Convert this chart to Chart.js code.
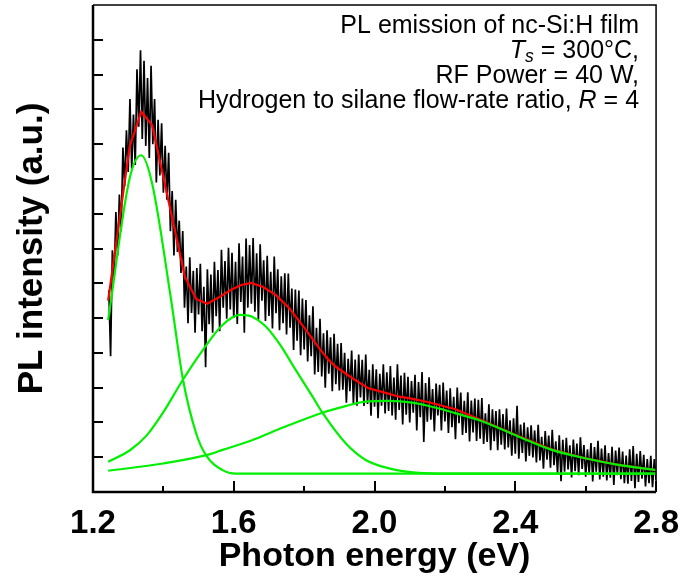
<!DOCTYPE html>
<html>
<head>
<meta charset="utf-8">
<script src="https://cdn.jsdelivr.net/npm/chart.js@4.4.1/dist/chart.umd.min.js"></script>
<style>
  html, body { margin: 0; padding: 0; background: #fff; }
</style>
</head>
<body>
<canvas id="plChart" width="683" height="580"></canvas>
<script>
// measured PL spectrum, sampled every 5 meV from 1.245 eV
const energyStart = 1.245;
const energyStep = 0.005;
const plSignal = [
  5.8, 3.9, 6.95, 6.1, 8.05, 6.8, 8.55, 7.5, 9.9, 8.8,
  10.4, 9.2, 11.3, 9.3, 10.85, 9.4, 12.15, 10.5, 12.7, 10.15,
  12.4, 9.95, 11.9, 9.6, 12.25, 10.0, 11.3, 8.9, 10.7, 9.1,
  10.6, 8.6, 9.95, 8.4, 9.75, 7.5, 8.65, 6.8, 8.4, 6.9,
  7.8, 6.3, 7.5, 5.3, 6.48, 4.85, 6.75, 5.15, 6.36, 4.58,
  6.44, 5.1, 6.56, 4.62, 5.9, 3.59, 6.4, 4.82, 6.25, 4.58,
  6.62, 5.05, 6.38, 4.62, 6.96, 5.3, 6.64, 4.98, 7.02, 5.25,
  6.88, 5.0, 6.62, 4.83, 7.15, 5.46, 6.77, 4.58, 7.29, 5.3,
  7.1, 5.41, 7.3, 5.18, 6.86, 4.95, 7.12, 5.5, 6.66, 4.92,
  6.79, 5.06, 6.33, 4.7, 6.77, 5.14, 6.4, 4.65, 6.2, 4.85,
  6.29, 4.53, 6.28, 4.72, 5.85, 4.08, 5.82, 4.35, 5.79, 3.93,
  5.56, 4.1, 5.52, 3.75, 5.08, 3.9, 5.34, 3.38, 4.72, 3.45,
  4.98, 3.32, 4.56, 3.0, 4.65, 3.4, 4.45, 2.9, 4.55, 3.1,
  4.26, 2.92, 4.28, 2.94, 4.0, 2.57, 3.83, 2.9, 4.07, 2.54,
  3.81, 2.48, 3.95, 2.72, 3.8, 2.47, 3.95, 2.53, 3.51, 2.19,
  3.67, 2.45, 3.53, 2.12, 3.4, 2.48, 3.67, 2.26, 3.44, 2.33,
  3.62, 2.2, 3.29, 2.08, 3.67, 2.36, 3.35, 1.94, 3.43, 2.22,
  3.31, 2.0, 3.19, 2.28, 3.37, 1.77, 3.16, 2.15, 3.45, 1.44,
  3.13, 2.02, 3.3, 2.08, 2.96, 1.74, 3.12, 2.2, 3.08, 1.77,
  3.15, 2.03, 2.92, 1.7, 2.98, 1.86, 2.74, 1.52, 3.0, 1.98,
  2.86, 1.64, 2.62, 1.7, 2.87, 1.45, 2.63, 1.71, 2.69, 1.47,
  2.65, 1.53, 2.7, 1.38, 2.26, 1.44, 2.52, 1.2, 2.38, 1.46,
  2.33, 1.2, 2.38, 1.36, 2.24, 1.22, 2.4, 1.28, 2.06, 1.04,
  2.12, 1.1, 2.48, 0.96, 1.94, 1.12, 2.0, 0.88, 1.86, 1.04,
  1.92, 0.99, 1.77, 0.85, 1.93, 0.91, 1.59, 0.67, 1.75, 0.93,
  1.62, 0.7, 1.79, 0.77, 1.46, 0.54, 1.63, 0.31, 1.5, 0.58,
  1.56, 0.65, 1.34, 0.42, 1.51, 0.6, 1.39, 0.48, 1.57, 0.66,
  1.35, 0.44, 1.23, 0.52, 1.41, 0.3, 1.29, 0.58, 1.47, 0.36,
  1.25, 0.44, 1.34, 0.33, 1.12, 0.41, 1.3, 0.2, 1.19, 0.48,
  1.28, 0.37, 1.16, 0.25, 1.05, 0.24, 1.23, 0.32, 1.32, 0.11,
  1.1, 0.29, 1.18, 0.38, 1.07, 0.16, 0.95, 0.25, 1.04, 0.14,
  0.95, 0.35
];

// total fit (red)
const fitEnergy = [1.243, 1.304, 1.337, 1.368, 1.461, 1.493, 1.525, 1.56, 1.59, 1.621, 1.649, 1.682, 1.72, 1.758, 1.805, 1.843, 1.87, 1.89, 1.937, 1.983, 2.032, 2.07, 2.098, 2.154, 2.23, 2.296, 2.41, 2.504, 2.598, 2.693, 2.8];
const fitTotal = [5.5, 9.92, 10.93, 10.55, 6.19, 5.55, 5.41, 5.61, 5.8, 5.95, 6.01, 5.9, 5.66, 5.28, 4.66, 4.13, 3.79, 3.6, 3.27, 2.98, 2.85, 2.74, 2.7, 2.58, 2.38, 2.1, 1.6, 1.22, 0.97, 0.78, 0.63];

// gaussian components (green)
const peak1Energy = [1.243, 1.304, 1.337, 1.368, 1.422, 1.455, 1.493, 1.521, 1.568, 1.607, 2.8];
const peak1 = [4.94, 9.01, 9.68, 8.87, 5.52, 3.27, 1.69, 1.06, 0.63, 0.53, 0.53];

const peak2Energy = [1.243, 1.305, 1.352, 1.399, 1.455, 1.512, 1.568, 1.618, 1.652, 1.689, 1.729, 1.776, 1.824, 1.852, 1.918, 1.975, 2.041, 2.126, 2.2, 2.8];
const peak2 = [0.87, 1.2, 1.62, 2.28, 3.22, 4.08, 4.8, 5.09, 5.04, 4.78, 4.27, 3.51, 2.74, 2.28, 1.4, 0.92, 0.68, 0.55, 0.53, 0.53];

const peak3Energy = [1.243, 1.399, 1.522, 1.568, 1.65, 1.729, 1.852, 1.918, 1.975, 2.04, 2.107, 2.183, 2.258, 2.296, 2.41, 2.504, 2.598, 2.693, 2.8];
const peak3 = [0.61, 0.82, 1.06, 1.21, 1.48, 1.81, 2.28, 2.47, 2.6, 2.62, 2.57, 2.4, 2.18, 2.07, 1.59, 1.21, 0.97, 0.78, 0.63];

const xTickValues = [1.2, 1.6, 2.0, 2.4, 2.8];
const xMinorTicks = [1.4, 1.8, 2.2, 2.6];
const yTickValues = [1, 2, 3, 4, 5, 6, 7, 8, 9, 10, 11, 12, 13];

const noteLines = [
  [['PL emission of nc-Si:H film', '']],
  [['T', 'i'], ['s', 'sub'], [' = 300\u00B0C,', '']],
  [['RF Power = 40 W,', '']],
  [['Hydrogen to silane flow-rate ratio, ', ''], ['R', 'i'], [' = 4', '']]
];

const FONT = '"Liberation Sans", Arial, Helvetica, sans-serif';

function pairs(xs, ys) {
  return ys.map((v, i) => ({ x: xs[i], y: v }));
}

const signalPoints = plSignal.map((v, i) => ({ x: energyStart + i * energyStep, y: v }));

// inward ticks + frame
const frameTicks = {
  id: 'frameTicks',
  afterDraw(chart) {
    const { ctx, chartArea: a, scales: { x, y } } = chart;
    ctx.save();
    ctx.strokeStyle = '#000';
    ctx.lineWidth = 2;
    ctx.beginPath();
    yTickValues.forEach(v => {
      const py = Math.round(y.getPixelForValue(v));
      ctx.moveTo(a.left, py);
      ctx.lineTo(a.left + 10, py);
    });
    xTickValues.forEach(v => {
      const px = Math.round(x.getPixelForValue(v));
      ctx.moveTo(px, a.bottom);
      ctx.lineTo(px, a.bottom - 11);
    });
    xMinorTicks.forEach(v => {
      const px = Math.round(x.getPixelForValue(v));
      ctx.moveTo(px, a.bottom);
      ctx.lineTo(px, a.bottom - 6);
    });
    ctx.stroke();

    ctx.lineWidth = 2.5;
    ctx.beginPath();
    ctx.moveTo(a.left, a.top);
    ctx.lineTo(a.left, a.bottom);
    ctx.lineTo(a.right, a.bottom);
    ctx.stroke();
    ctx.lineWidth = 1.5;
    ctx.beginPath();
    ctx.moveTo(a.left, a.top);
    ctx.lineTo(a.right, a.top);
    ctx.lineTo(a.right, a.bottom);
    ctx.stroke();
    ctx.restore();
  }
};

// annotation block, top right
const notes = {
  id: 'notes',
  afterDraw(chart) {
    const { ctx, chartArea: a } = chart;
    const size = 25;
    const fontFor = s => (s === 'i' ? 'italic ' : '') + (s === 'sub' ? 'italic ' + (size * 0.7) : size) + 'px ' + FONT;
    ctx.save();
    ctx.fillStyle = '#000';
    ctx.textBaseline = 'alphabetic';
    ctx.textAlign = 'left';
    noteLines.forEach((line, i) => {
      let total = 0;
      line.forEach(([t, s]) => { ctx.font = fontFor(s); total += ctx.measureText(t).width; });
      let px = a.right - 17 - total;
      const py = a.top + 28 + i * 25;
      line.forEach(([t, s]) => {
        ctx.font = fontFor(s);
        ctx.fillText(t, px, s === 'sub' ? py + 4 : py);
        px += ctx.measureText(t).width;
      });
    });
    ctx.restore();
  }
};

const ctx = document.getElementById('plChart').getContext('2d');

new Chart(ctx, {
  type: 'line',
  data: {
    datasets: [
      { data: signalPoints, borderColor: '#000', borderWidth: 1.7, pointRadius: 0, tension: 0, order: 4 },
      { data: pairs(fitEnergy, fitTotal), borderColor: '#ff0000', borderWidth: 2.2, pointRadius: 0, tension: 0, order: 3 },
      { data: pairs(peak1Energy, peak1), borderColor: '#00f000', borderWidth: 2.2, pointRadius: 0, cubicInterpolationMode: 'monotone', order: 2 },
      { data: pairs(peak2Energy, peak2), borderColor: '#00f000', borderWidth: 2.2, pointRadius: 0, cubicInterpolationMode: 'monotone', order: 1 },
      { data: pairs(peak3Energy, peak3), borderColor: '#00f000', borderWidth: 2.2, pointRadius: 0, cubicInterpolationMode: 'monotone', order: 0 }
    ]
  },
  options: {
    responsive: false,
    animation: false,
    devicePixelRatio: 1,
    layout: { padding: { left: 0, right: 25, top: 5, bottom: 0 } },
    plugins: { legend: { display: false }, tooltip: { enabled: false } },
    scales: {
      x: {
        type: 'linear',
        min: 1.2,
        max: 2.8,
        grid: { display: false },
        border: { display: false },
        afterBuildTicks: s => { s.ticks = xTickValues.map(v => ({ value: v })); },
        afterFit: s => { s.height = 88; },
        ticks: {
          padding: 4,
          color: '#000',
          font: { family: FONT, size: 33, weight: 'bold' },
          callback: v => Number(v).toFixed(1)
        },
        title: {
          display: true,
          text: 'Photon energy (eV)',
          color: '#000',
          font: { family: FONT, size: 34, weight: 'bold' },
          padding: { top: 0, bottom: 3 }
        }
      },
      y: {
        min: 0,
        max: 14,
        grid: { display: false },
        border: { display: false },
        ticks: { display: false },
        afterFit: s => { s.width = 93; },
        title: {
          display: true,
          text: 'PL intensity (a.u.)',
          color: '#000',
          font: { family: FONT, size: 35, weight: 'bold' },
          padding: { top: 11, bottom: 0 }
        }
      }
    }
  },
  plugins: [frameTicks, notes]
});
</script>
</body>
</html>
